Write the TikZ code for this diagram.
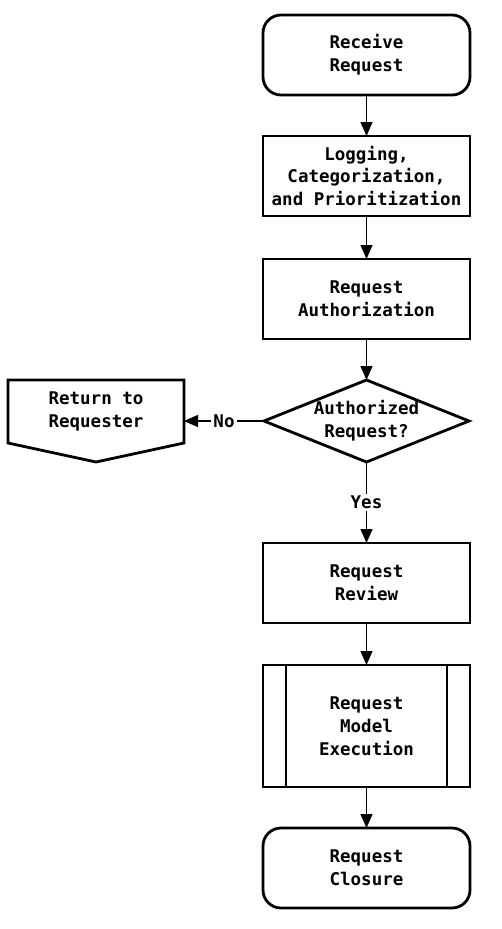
\documentclass[tikz,border=0pt]{standalone}
\usepackage{fontspec}
\newfontfamily\flowfont{DejaVu Sans Mono}
\usetikzlibrary{arrows.meta,positioning,calc}
\tikzstyle{flow}=[font=\flowfont\bfseries\fontsize{17.5}{22.8}\selectfont,
               align=center, inner sep=0pt, outer sep=0pt, line width=2.8pt]
\tikzstyle{term}=[draw, rounded corners=18pt, minimum width=207pt, minimum height=80pt]
\tikzstyle{proc}=[draw, minimum width=207pt, minimum height=80pt]
\tikzstyle{sub}=[draw, minimum width=207pt, minimum height=122pt]
\tikzstyle{dec}=[minimum width=205pt, minimum height=82pt]
\tikzstyle{off}=[minimum width=176pt, minimum height=63pt]
\tikzstyle{hit}=[-{Triangle[length=14pt,width=12pt]}, line width=1.3pt]
\tikzstyle{lbl}=[fill=white, inner sep=2pt]
\begin{document}
\begin{tikzpicture}[flow]
        \useasboundingbox (0pt,0pt) rectangle (501pt,-929pt);
        \node [term] (receive) at (366.5pt,-55pt) {Receive\\Request};
        \node [proc, below = 41pt of receive] (logging) {Logging,\\Categorization,\\and Prioritization};
        \draw[hit] (receive) -- (logging);
        \node [proc, below = 43pt of logging] (authz) {Request\\Authorization};
        \draw[hit] (logging) -- (authz);
        \node [dec, below = 41pt of authz] (authq) {Authorized\\Request?};
        \draw (authq.north) -- (authq.east) -- (authq.south) -- (authq.west) -- cycle;
        \draw[hit] (authz) -- (authq);
        \node [off, below left = 0pt and 80pt of authq.north west] (return) {Return to\\Requester};
        \draw (return.north west) -- (return.north east) -- (return.south east)
              -- ($(return.south)+(0pt,-19pt)$) -- (return.south west) -- cycle;
        \draw[hit] (authq.west) -- node[lbl] {No} (authq.west -| return.east);
        \node [proc, below = 81pt of authq] (review) {Request\\Review};
        \draw[hit] (authq) -- node[lbl] {Yes} (review);
        \node [sub, below = 42pt of review] (exec) {Request\\Model\\Execution};
        \draw ([xshift=23pt]exec.north west) -- ([xshift=23pt]exec.south west);
        \draw ([xshift=-23pt]exec.north east) -- ([xshift=-23pt]exec.south east);
        \draw[hit] (review) -- (exec);
        \node [term, below = 41pt of exec] (closure) {Request\\Closure};
        \draw[hit] (exec) -- (closure);
    \end{tikzpicture}
\end{document}
